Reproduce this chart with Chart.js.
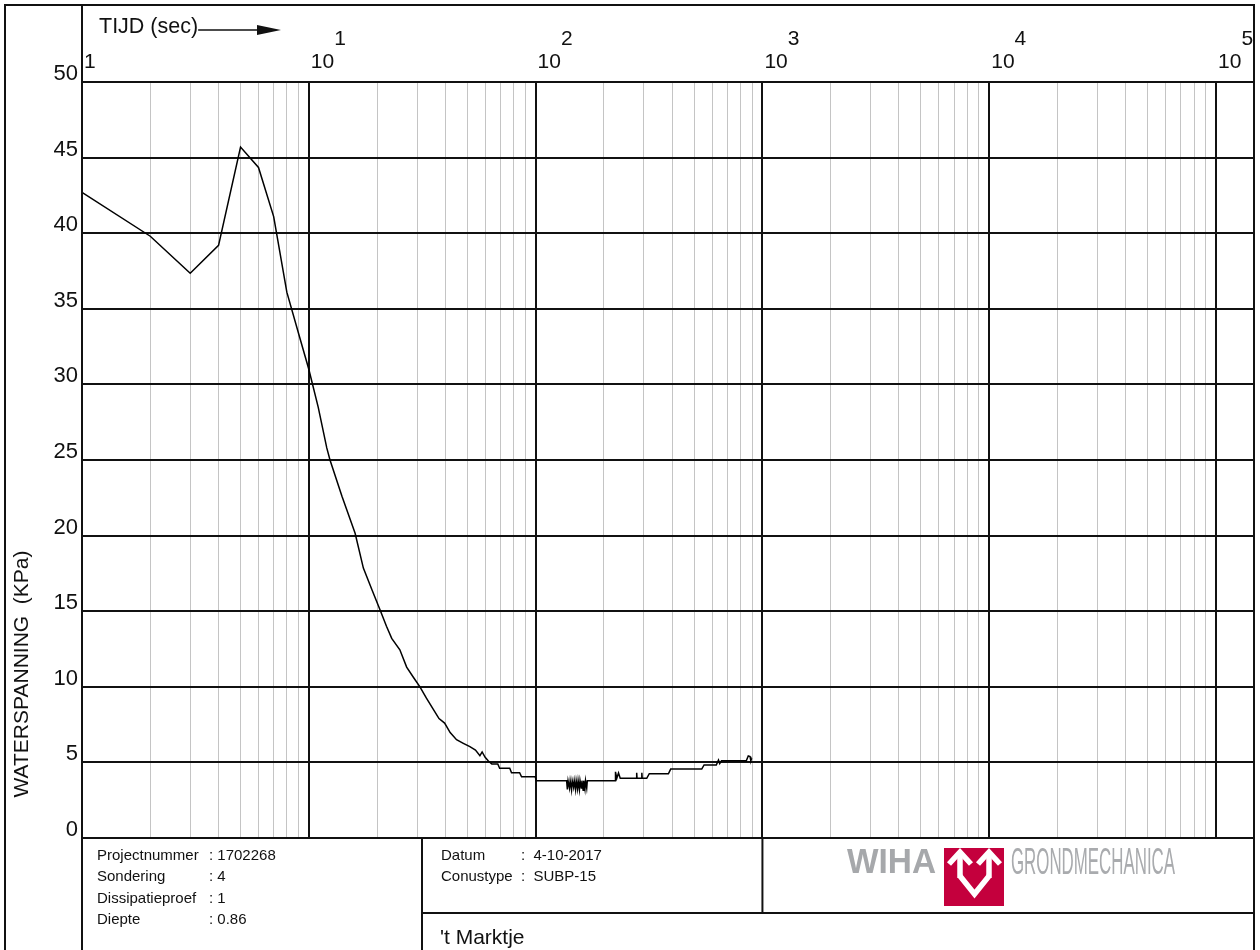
<!DOCTYPE html>
<html>
<head>
<meta charset="utf-8">
<title>Dissipatieproef 1 - Sondering 4</title>
<script src="https://cdn.jsdelivr.net/npm/chart.js@4.4.1/dist/chart.umd.min.js"></script>
<style>
  html, body { margin: 0; padding: 0; background: #fff; overflow: hidden; }
  #wrap { position: relative; width: 1260px; height: 950px; }
</style>
</head>
<body>
<div id="wrap"><canvas id="c" width="1260" height="950"></canvas></div>
<script>
// Dissipation test: pore water pressure (kPa) against time (s)
const tijd = [
  1, 2, 3, 4, 5, 6, 7, 8, 9, 10,
  11, 12, 12.4, 14, 16, 17.4, 19, 20.6, 22, 23.2,
  25.2, 27, 29, 30.9, 33, 35.4, 37.5, 39.7, 42, 44.8,
  48, 51.3, 54.3, 56.8, 58.1, 59.9, 61.9, 64.1, 68.1, 69.4,
  76.9, 78.3, 85, 86.7, 99.6, 100.7,
  137, 138, 139, 141, 142, 144, 145, 147, 148, 150,
  151, 153, 154, 156, 157, 159, 160, 162, 163, 165,
  166, 168, 169,
  224, 225, 228, 232, 236, 278, 279, 280, 293, 294,
  295, 309, 317, 385, 394, 540, 553, 626, 640, 648,
  660, 849, 866, 882, 889, 897
];
const waterspanning = [
  42.7, 39.8, 37.35, 39.2, 45.7, 44.35, 41.1, 36.1, 33.4, 31.0,
  28.5, 25.8, 25.0, 22.6, 20.15, 17.85, 16.4, 15.1, 14.0, 13.2,
  12.45, 11.3, 10.6, 10.0, 9.25, 8.5, 7.9, 7.6, 6.97, 6.5,
  6.26, 6.04, 5.82, 5.44, 5.69, 5.34, 5.09, 4.89, 4.89, 4.61,
  4.61, 4.32, 4.32, 4.05, 4.05, 3.79,
  3.79, 3.22, 3.79, 3.3, 3.79, 3.18, 3.79, 3.35, 3.79, 3.2,
  3.79, 3.25, 3.79, 3.2, 3.79, 3.3, 3.79, 3.15, 3.79, 3.25,
  3.79, 3.3, 3.79,
  3.79, 4.38, 3.95, 4.3, 3.95, 3.95, 4.32, 3.95, 3.95, 4.32,
  3.95, 3.95, 4.25, 4.25, 4.56, 4.56, 4.83, 4.83, 5.15, 4.92,
  5.11, 5.11, 5.43, 5.38, 5.11, 5.27
];

// axis ticks
const yTicks = [0, 5, 10, 15, 20, 25, 30, 35, 40, 45, 50];
const decadeExponents = [0, 1, 2, 3, 4, 5];
const xGridValues = [];
decadeExponents.forEach(function (k) {
  for (let m = 1; m <= 9; m++) {
    if (k === 5 && m > 1) break;
    xGridValues.push(m * Math.pow(10, k));
  }
});

// texts
const xTitle = 'TIJD (sec)';
const yTitle = 'WATERSPANNING  (KPa)';
const infoLinks = [
  ['Projectnummer', ': 1702268'],
  ['Sondering', ': 4'],
  ['Dissipatieproef', ': 1'],
  ['Diepte', ': 0.86']
];
const infoRechts = [
  ['Datum', ':  4-10-2017'],
  ['Conustype', ':  SUBP-15']
];
const locatie = "'t Marktje";
const logoWoord = 'WIHA';
const logoOndertitel = 'GRONDMECHANICA';

const FONT = "'Liberation Sans', Arial, Helvetica, sans-serif";
const X_MAX = 147000;

function isDecade(v) {
  const l = Math.log10(v);
  return Math.abs(l - Math.round(l)) < 1e-9;
}

const sheetPlugin = {
  id: 'sheet',
  afterDraw(chart) {
    const ctx = chart.ctx;
    const a = chart.chartArea;
    const xs = chart.scales.x;
    const ys = chart.scales.y;
    const H = chart.height;

    function line(x1, y1, x2, y2) {
      ctx.beginPath();
      ctx.moveTo(x1, y1);
      ctx.lineTo(x2, y2);
      ctx.stroke();
    }

    ctx.save();
    ctx.strokeStyle = '#111';
    ctx.lineWidth = 2;
    ctx.lineCap = 'square';

    // outer frame and margins
    const rightEdge = a.right;
    line(5, 5, rightEdge, 5);
    line(5, 5, 5, H);
    line(rightEdge, 5, rightEdge, H);
    line(a.left, 5, a.left, H);
    line(a.left, a.top, rightEdge, a.top);
    line(a.left, a.bottom, rightEdge, a.bottom);

    // title block dividers
    const splitX = 422;
    const splitY = 913;
    const midX = xs.getPixelForValue(1000);
    line(splitX, a.bottom, splitX, H);
    line(midX, a.bottom, midX, splitY);
    line(splitX, splitY, rightEdge, splitY);

    ctx.fillStyle = '#111';

    // y tick labels
    ctx.font = '22px ' + FONT;
    ctx.textAlign = 'right';
    ctx.textBaseline = 'alphabetic';
    yTicks.forEach(function (v) {
      ctx.fillText(String(v), a.left - 4, ys.getPixelForValue(v) - 2);
    });

    // x decade labels (10 with exponent)
    ctx.textAlign = 'left';
    ctx.font = '21px ' + FONT;
    decadeExponents.forEach(function (k) {
      const px = xs.getPixelForValue(Math.pow(10, k));
      if (k === 0) {
        ctx.fillText('1', px + 2, 68);
      } else {
        ctx.fillText('10', px + 2, 68);
        const w = ctx.measureText('10').width;
        ctx.fillText(String(k), px + 2 + w, 45);
      }
    });

    // x title with arrow
    ctx.font = '21.5px ' + FONT;
    ctx.fillText(xTitle, 99, 33);
    const tw = ctx.measureText(xTitle).width;
    ctx.lineWidth = 1.5;
    ctx.lineCap = 'butt';
    line(99 + tw, 30, 262, 30);
    ctx.beginPath();
    ctx.moveTo(281, 30);
    ctx.lineTo(257, 25);
    ctx.lineTo(257, 35);
    ctx.closePath();
    ctx.fill();

    // y title, rotated
    ctx.save();
    ctx.translate(28, 674);
    ctx.rotate(-Math.PI / 2);
    ctx.font = '21px ' + FONT;
    ctx.textAlign = 'center';
    ctx.fillText(yTitle, 0, 0);
    ctx.restore();

    // project information
    ctx.font = '15px ' + FONT;
    ctx.textAlign = 'left';
    infoLinks.forEach(function (r, i) {
      const y = 860 + i * 21.3;
      ctx.fillText(r[0], 97, y);
      ctx.fillText(r[1], 209, y);
    });
    infoRechts.forEach(function (r, i) {
      const y = 860 + i * 21.3;
      ctx.fillText(r[0], 441, y);
      ctx.fillText(r[1], 521, y);
    });
    ctx.font = '21px ' + FONT;
    ctx.fillText(locatie, 440, 944);

    // company logo
    ctx.fillStyle = '#a6a8ab';
    ctx.font = 'bold 35px ' + FONT;
    ctx.fillText(logoWoord, 847, 873, 89);
    ctx.fillStyle = '#a9abae';
    ctx.font = '36px ' + FONT;
    ctx.fillText(logoOndertitel, 1011, 874, 164);

    ctx.fillStyle = '#c4003d';
    ctx.fillRect(944, 848, 60, 58);
    ctx.strokeStyle = '#fff';
    ctx.lineWidth = 5.5;
    ctx.lineCap = 'butt';
    ctx.lineJoin = 'miter';
    [960, 989].forEach(function (cx) {
      ctx.beginPath();
      ctx.moveTo(cx - 11, 864);
      ctx.lineTo(cx, 852);
      ctx.lineTo(cx + 11, 864);
      ctx.stroke();
      line(cx, 853, cx, 878);
    });
    ctx.beginPath();
    ctx.moveTo(960, 876);
    ctx.lineTo(974.5, 894);
    ctx.lineTo(989, 876);
    ctx.stroke();

    ctx.restore();
  }
};

new Chart(document.getElementById('c'), {
  type: 'line',
  data: {
    datasets: [{
      data: tijd.map(function (t, i) { return { x: t, y: waterspanning[i] }; }),
      borderColor: '#000',
      borderWidth: 1.5,
      pointRadius: 0,
      tension: 0,
      fill: false
    }]
  },
  options: {
    responsive: false,
    animation: false,
    devicePixelRatio: 1,
    layout: { padding: { left: 82, top: 82, right: 6, bottom: 112 } },
    plugins: { legend: { display: false }, tooltip: { enabled: false } },
    scales: {
      x: {
        type: 'logarithmic',
        min: 1,
        max: X_MAX,
        z: 0,
        afterBuildTicks: function (s) { s.ticks = xGridValues.map(function (v) { return { value: v }; }); },
        ticks: { display: false },
        border: { display: false },
        grid: {
          drawTicks: false,
          color: function (c) { return c.tick && isDecade(c.tick.value) ? '#111' : '#c4c4c4'; },
          lineWidth: function (c) { return c.tick && isDecade(c.tick.value) ? 2 : 1; }
        }
      },
      y: {
        type: 'linear',
        min: 0,
        max: 50,
        z: 1,
        afterBuildTicks: function (s) { s.ticks = yTicks.map(function (v) { return { value: v }; }); },
        ticks: { display: false },
        border: { display: false },
        grid: { drawTicks: false, color: '#111', lineWidth: 2 }
      }
    }
  },
  plugins: [sheetPlugin]
});
</script>
</body>
</html>
